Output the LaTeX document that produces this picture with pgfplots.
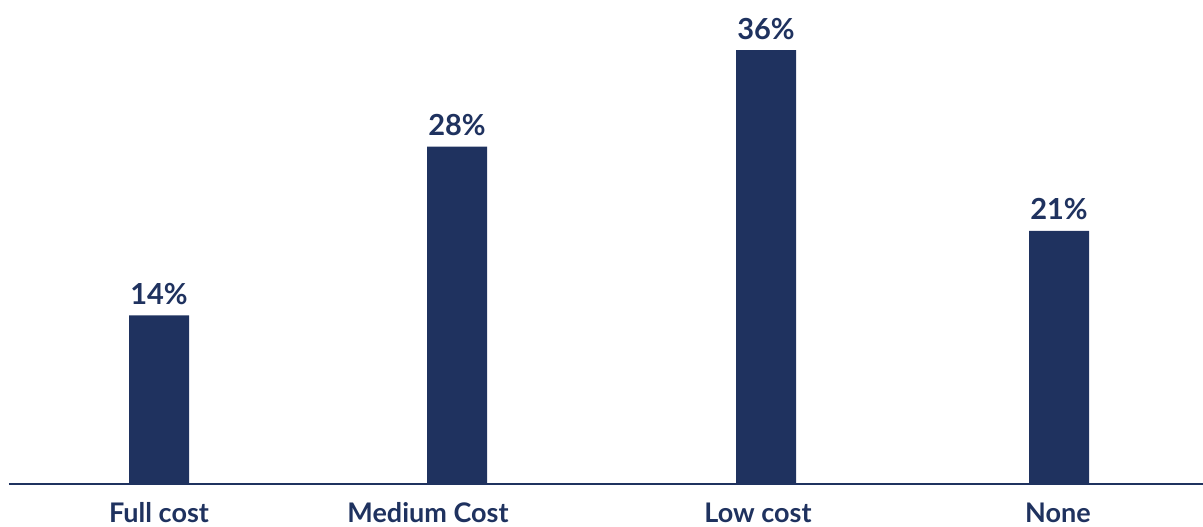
\documentclass[border=0pt]{standalone}
\usepackage{fontspec}
\setmainfont{Lato}
\usepackage{pgfplots}
\pgfplotsset{compat=1.18}
\definecolor{navy}{HTML}{1F325F}
\begin{document}
\begin{tikzpicture}[x=1pt,y=1pt]
\begin{axis}[
  at={(9pt,43pt)}, anchor=south west,
  scale only axis,
  width=1194pt, height=484pt,
  xmin=9, xmax=1203,
  ymin=0, ymax=40.17,
  axis x line=bottom,
  axis y line=none,
  x axis line style={draw=navy, line width=2pt, -},
  xtick={159,428,758,1058},
  xticklabels={Full cost, Medium Cost, Low cost, None},
  major tick length=0pt,
  xticklabel style={anchor=base, yshift=-39pt, font=\fontsize{27}{29}\selectfont\bfseries, text=navy},
  ytick=\empty,
  /pgf/number format/assume math mode=true,
  nodes near coords={\pgfmathprintnumber{\pgfplotspointmeta}\%},
  every node near coord/.append style={anchor=base, yshift=11pt, font=\fontsize{29}{31}\selectfont\bfseries, text=navy},
  clip=false,
]
\addplot[ybar, bar width=60pt, fill=navy, draw=none] coordinates {
  (159,14) (457,28) (766,36) (1059,21)
};
\end{axis}
\pgfresetboundingbox
\path (0,0) rectangle (1203pt,527pt);
\end{tikzpicture}
\end{document}
